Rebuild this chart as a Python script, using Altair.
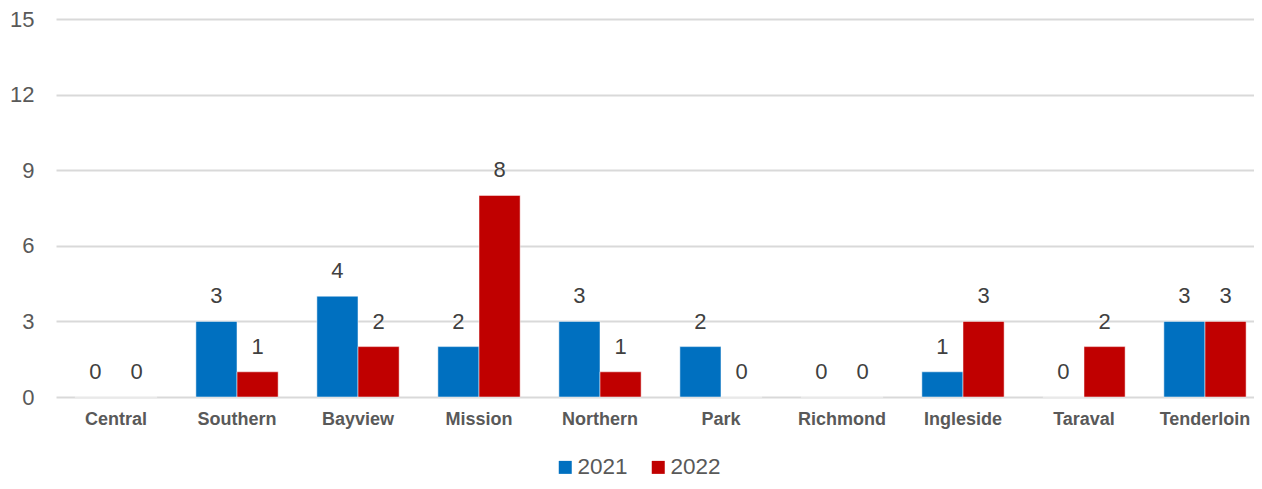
import altair as alt
import pandas as pd

districts = ["Central", "Southern", "Bayview", "Mission", "Northern", "Park",
             "Richmond", "Ingleside", "Taraval", "Tenderloin"]
values_2021 = [0, 3, 4, 2, 3, 2, 0, 1, 0, 3]
values_2022 = [0, 1, 2, 8, 1, 0, 0, 3, 2, 3]
years = ["2021", "2022"]
colors = ["#0070C0", "#C00000"]
y_ticks = [0, 3, 6, 9, 12, 15]

rows = []
for d, a, b in zip(districts, values_2021, values_2022):
    rows.append({"District": d, "Year": "2021", "Count": a})
    rows.append({"District": d, "Year": "2022", "Count": b})
df = pd.DataFrame(rows)

FONT = "Liberation Sans"

x_enc = alt.X("District:N", sort=districts, title=None,
              scale=alt.Scale(paddingInner=0.32, paddingOuter=0.156, range=[0, 1209]),
              axis=alt.Axis(labelAngle=0, labelFontWeight="bold", labelFontSize=18,
                            labelColor="#595959", labelFont=FONT, ticks=False,
                            domain=False, labelPadding=13, grid=False))
xo = alt.XOffset("Year:N", sort=years, scale=alt.Scale(paddingInner=0, paddingOuter=0))
y_enc = alt.Y("Count:Q", title=None,
              scale=alt.Scale(domain=[0, 15], nice=False),
              axis=alt.Axis(values=y_ticks, labelFontSize=22, labelColor="#595959",
                            labelFont=FONT, ticks=False, domain=False, labelPadding=22,
                            gridColor="#D9D9D9", gridWidth=2))

bars = alt.Chart(df).mark_bar(stroke="white", strokeWidth=0.5).encode(
    x=x_enc, xOffset=xo, y=y_enc,
    color=alt.Color("Year:N", sort=years,
                    scale=alt.Scale(domain=years, range=colors),
                    legend=alt.Legend(title=None, orient="none", direction="horizontal",
                                      legendX=498, legendY=437, symbolType="square",
                                      symbolSize=169, symbolStrokeWidth=0,
                                      labelFontSize=22.5, labelColor="#595959",
                                      labelFont=FONT, columnPadding=19,
                                      symbolOffset=0, labelOffset=1)),
)

labels = alt.Chart(df).mark_text(baseline="middle", dy=-25, fontSize=22,
                                 color="#404040", font=FONT).encode(
    x=x_enc, xOffset=xo, y=y_enc,
    text="Count:Q",
)

chart = (bars + labels).properties(
    width=1198, height=378,
    autosize=alt.AutoSizeParams(type="none"),
    padding={"left": 48, "top": 11, "right": 0, "bottom": 84},
).configure(font=FONT, view=alt.ViewConfig(stroke=None))

chart.save("out.html", embed_options={"renderer": "svg", "actions": False})
